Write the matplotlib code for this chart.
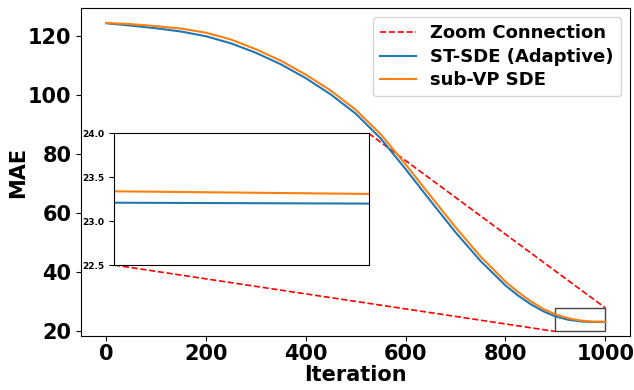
import numpy as np
import matplotlib
matplotlib.use("Agg")
import matplotlib.pyplot as plt
from matplotlib.patches import Rectangle

# values
iterations = [0, 50, 100, 150, 200, 250, 300, 350, 400, 450, 500, 550, 600,
              650, 700, 750, 800, 825, 850, 875, 900, 925, 950, 975, 1000]
st_sde = [124.4, 123.6, 122.7, 121.6, 120.0, 117.6, 114.4, 110.5, 105.8, 100.3,
          93.8, 85.4, 75.0, 64.2, 53.6, 43.9, 35.6, 32.2, 29.3, 26.9, 25.1,
          24.0, 23.4, 23.21, 23.20]
sub_vp = [124.5, 124.1, 123.4, 122.6, 121.2, 118.9, 115.6, 111.7, 107.0, 101.6,
          95.1, 86.8, 76.6, 65.9, 55.3, 45.4, 36.9, 33.4, 30.3, 27.7, 25.8,
          24.5, 23.7, 23.34, 23.31]

zoom_x = (900, 1000)
zoom_y = (20, 28)
inset_xlim = (975, 1000)
inset_ylim = (22.5, 24.0)
inset_yticks = [22.5, 23.0, 23.5, 24.0]
inset_box = [16, 42.5, 510, 44.6]  # data coords of the inset

plt.rcParams['font.weight'] = 'bold'
fig, ax = plt.subplots(figsize=(6.34, 3.90), dpi=100)
plt.subplots_adjust(left=0.128, right=0.994, top=0.979, bottom=0.138)

x0, y0, w, h = inset_box
ax.plot([x0, zoom_x[0]], [y0, zoom_y[0]], 'r--', lw=1.2, label='Zoom Connection')
ax.plot([x0 + w, zoom_x[1]], [y0 + h, zoom_y[1]], 'r--', lw=1.2)
ax.plot(iterations, st_sde, color='tab:blue', lw=1.5, label='ST-SDE (Adaptive)')
ax.plot(iterations, sub_vp, color='tab:orange', lw=1.5, label='sub-VP SDE')

ax.add_patch(Rectangle((zoom_x[0], zoom_y[0]), zoom_x[1] - zoom_x[0],
                       zoom_y[1] - zoom_y[0], fill=False, edgecolor='#444444', lw=1))

ax.set_xlim(-50, 1050)
ax.set_ylim(18.4, 129.5)
ax.set_xlabel('Iteration', fontsize=15, fontweight='bold', labelpad=1)
ax.set_ylabel('MAE', fontsize=15, fontweight='bold', labelpad=0)
ax.tick_params(labelsize=15)
ax.tick_params(axis='x', pad=2)
ax.set_xticks([0, 200, 400, 600, 800, 1000])
ax.set_yticks([20, 40, 60, 80, 100, 120])
ax.legend(loc='upper right', labelspacing=0.3,
          prop={'weight': 'bold', 'size': 13})

axins = ax.inset_axes(inset_box, transform=ax.transData)
axins.plot(iterations, st_sde, color='tab:blue', lw=1.5)
axins.plot(iterations, sub_vp, color='tab:orange', lw=1.5)
axins.set_xlim(*inset_xlim)
axins.set_ylim(*inset_ylim)
axins.set_xticks([])
axins.set_yticks(inset_yticks)
axins.tick_params(labelsize=6.5)

fig.savefig('out.png', dpi=100)
